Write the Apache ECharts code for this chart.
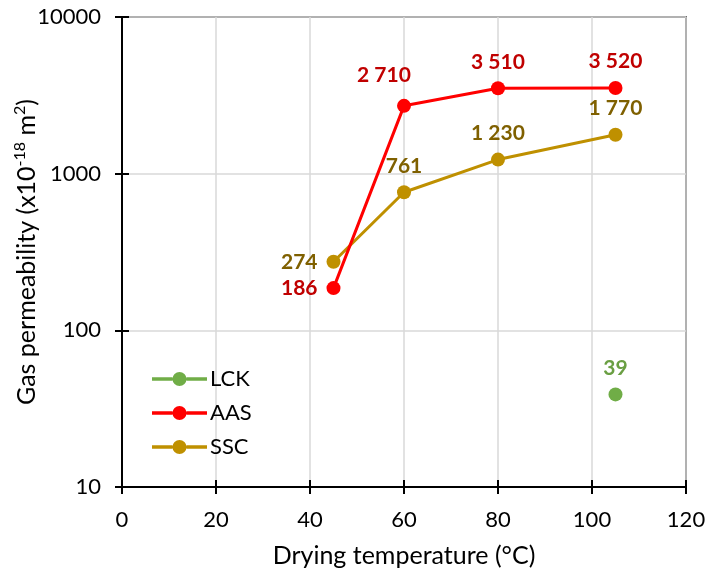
<!DOCTYPE html>
<html>
<head>
<meta charset="utf-8">
<script src="https://cdn.jsdelivr.net/npm/echarts@6/dist/echarts.min.js"></script>
<style>html,body{margin:0;padding:0;background:#fff}#c{width:706px;height:572px}</style>
</head>
<body>
<div id="c"></div>
<script>
const seriesNames = ['LCK', 'AAS', 'SSC'];
const lckX = [105];
const lckY = [39];
const aasX = [45, 60, 80, 105];
const aasY = [186, 2710, 3510, 3520];
const sscX = [45, 60, 80, 105];
const sscY = [274, 761, 1230, 1770];
const xTicks = [0, 20, 40, 60, 80, 100, 120];
const yTicks = [10, 100, 1000, 10000];

const FONT = 'Lato';
function fmt(v) {
  return String(Math.round(v)).replace(/\B(?=(\d{3})+(?!\d))/g, ' ');
}
function pairs(xs, ys) { return xs.map((x, i) => [x, ys[i]]); }

const chart = echarts.init(document.getElementById('c'));
const lineColors = ['#70AD47', '#FF0000', '#BF9000'];
const labelColors = ['#6A9F43', '#C00000', '#7F6000'];
const legendIcon = 'path://M0,6.5H20.6V10H0z M34.4,6.5H55V10H34.4z M20.5,8.25a7,7 0 1,1 14,0a7,7 0 1,1 -14,0z';

function mkSeries(idx, xs, ys, leftIdx) {
  return {
    name: seriesNames[idx],
    type: 'line',
    data: pairs(xs, ys).map((p, i) => ({
      value: p,
      label: leftIdx.indexOf(i) >= 0 ? { position: 'left', distance: 9 } :
        (idx === 1 && i === 1 ? { position: 'top', offset: [-20, -4] } : {})
    })),
    symbol: 'circle',
    symbolSize: 14,
    lineStyle: { width: 3, color: lineColors[idx] },
    itemStyle: { color: lineColors[idx] },
    z: 5 - idx,
    label: {
      show: true,
      position: 'top',
      distance: 9,
      fontFamily: FONT,
      fontSize: 21,
      fontWeight: 'bold',
      color: labelColors[idx],
      formatter: p => fmt(p.value[1])
    }
  };
}

const option = {
  animation: false,
  backgroundColor: '#fff',
  grid: { left: 122, right: 20, top: 17, bottom: 85, containLabel: false, outerBoundsMode: 'none',
    show: true, borderColor: '#000', borderWidth: 1.5, backgroundColor: 'transparent' },
  legend: {
    orient: 'vertical',
    left: 147, top: 363,
    itemWidth: 55, itemHeight: 14, itemGap: 12,
    textStyle: { fontFamily: FONT, fontSize: 22, color: '#000', padding: [0, 0, 0, -2] },
    data: seriesNames.map((n, i) => ({ name: n, icon: legendIcon, itemStyle: { color: lineColors[i] } }))
  },
  xAxis: [{
    type: 'value', min: xTicks[0], max: xTicks[xTicks.length - 1], interval: 20,
    position: 'bottom',
    axisLine: { show: true, onZero: false, lineStyle: { color: '#000', width: 2 } },
    axisTick: { show: true, inside: false, length: 7, lineStyle: { color: '#000', width: 2 } },
    axisLabel: { fontFamily: FONT, fontSize: 22, color: '#000', margin: 22, formatter: v => String(v) },
    splitLine: { show: true, lineStyle: { color: '#D9D9D9', width: 1.5 } },
    name: 'Drying temperature (°C)', nameLocation: 'middle', nameGap: 56, nameMoveOverlap: false,
    nameTextStyle: { fontFamily: FONT, fontSize: 25, color: '#000' }
  }, {
    type: 'value', min: xTicks[0], max: xTicks[xTicks.length - 1], interval: 20,
    position: 'bottom',
    axisLine: { show: false, onZero: false },
    axisTick: { show: true, inside: true, length: 7, lineStyle: { color: '#000', width: 2 } },
    axisLabel: { show: false },
    splitLine: { show: false }
  }],
  yAxis: [{
    type: 'log', logBase: 10, min: yTicks[0], max: yTicks[yTicks.length - 1],
    position: 'left',
    axisLine: { show: true, onZero: false, lineStyle: { color: '#000', width: 2 } },
    axisTick: { show: true, inside: false, length: 7, lineStyle: { color: '#000', width: 2 } },
    axisLabel: { fontFamily: FONT, fontSize: 22, color: '#000', margin: 21, formatter: v => String(Math.round(v)) },
    splitLine: { show: true, lineStyle: { color: '#D9D9D9', width: 1.5 } },
    minorTick: { show: false },
    name: '{a|Gas permeability (x10}{s|-18}{a| m}{s|2}{a|)}',
    nameLocation: 'middle', nameRotate: 90, nameGap: 80, nameMoveOverlap: false,
    nameTextStyle: {
      fontFamily: FONT, fontSize: 25, color: '#000',
      rich: {
        a: { fontFamily: FONT, fontSize: 25, color: '#000' },
        s: { fontFamily: FONT, fontSize: 16, color: '#000', verticalAlign: 'top', lineHeight: 30 }
      }
    }
  }, {
    type: 'log', logBase: 10, min: yTicks[0], max: yTicks[yTicks.length - 1],
    position: 'left',
    axisLine: { show: false, onZero: false },
    axisTick: { show: true, inside: true, length: 7, lineStyle: { color: '#000', width: 2 } },
    axisLabel: { show: false },
    splitLine: { show: false }
  }],
  series: [
    mkSeries(0, lckX, lckY, []),
    mkSeries(1, aasX, aasY, [0]),
    mkSeries(2, sscX, sscY, [0])
  ]
};
chart.setOption(option);
</script>
</body>
</html>
